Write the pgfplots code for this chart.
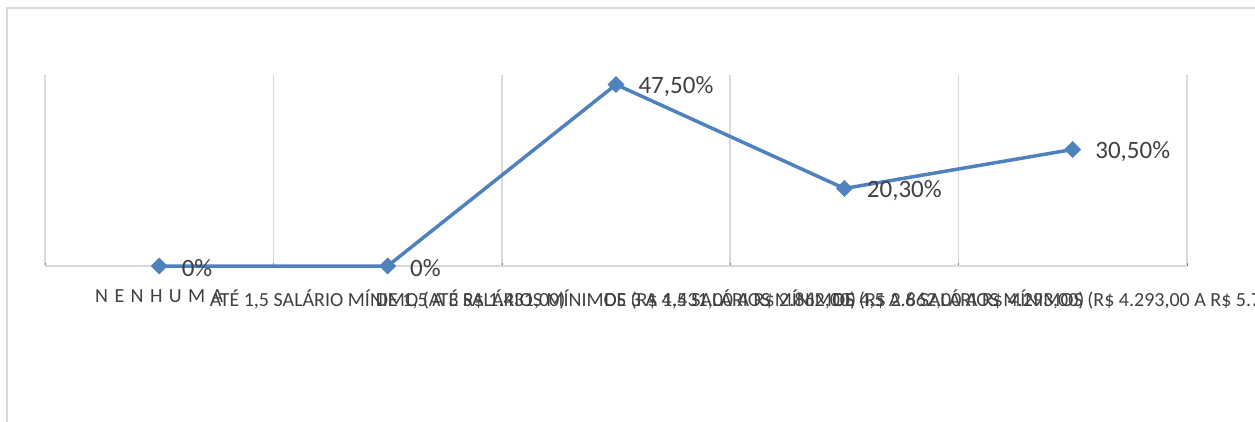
\documentclass[border=0pt]{standalone}
\usepackage{fontspec}
\setmainfont{Carlito}
\usepackage{pgfplots}
\pgfplotsset{compat=1.18}
\definecolor{lineblue}{HTML}{4F81BD}
\definecolor{gridgray}{HTML}{D9D9D9}
\definecolor{txt}{HTML}{404040}
\begin{document}
\begin{tikzpicture}[x=1bp,y=1bp]
\useasboundingbox (0,0) rectangle (1255,421);
\begin{scope}
\clip (0,0) rectangle (1255,421);
\draw[gridgray, line width=2bp] (7,-20) -- (7,413) -- (1300,413);
\end{scope}
\begin{axis}[
  at={(45bp,155bp)}, anchor=south west,
  scale only axis, width=1142bp, height=191bp,
  xmin=-0.5, xmax=4.5, ymin=0, ymax=50,
  axis y line=none, axis x line*=bottom,
  x axis line style={gridgray, line width=1.5bp},
  xtick={0,1,2,3,4}, major tick length=0pt,
  minor xtick={-0.5,0.5,1.5,2.5,3.5,4.5},
  xminorgrids=true,
  minor grid style={gridgray, line width=1.5bp},
  xticklabels={{\addfontfeature{LetterSpace=32}NENHUMA},
    {ATÉ 1,5 SALÁRIO MÍNIMO (ATÉ R\$ 1.431,00)},
    {DE 1,5 A 3 SALÁRIOS MÍNIMOS (R\$ 1.431,00 A R\$ 2.862,00)},
    {DE 3 A 4,5 SALÁRIOS MÍNIMOS (R\$ 2.862,00 A R\$ 4.293,00)},
    {DE 4,5 A 6 SALÁRIOS MÍNIMOS (R\$ 4.293,00 A R\$ 5.724,00)}},
  xticklabel style={font=\fontsize{20bp}{24bp}\selectfont, text=txt, anchor=north, yshift=-20bp},
  clip=false,
]
\addplot[lineblue, line width=3.5bp, mark=square*, mark size=5.7bp,
  mark options={rotate=45, fill=lineblue, draw=lineblue, line width=0.5bp},
  nodes near coords, point meta=explicit symbolic,
  every node near coord/.append style={anchor=west, xshift=19bp, yshift=-2bp,
    font=\fontsize{25bp}{29bp}\selectfont, text=txt}]
coordinates {(0,0) [0\%] (1,0) [0\%] (2,47.5) [47,50\%] (3,20.3) [20,30\%] (4,30.5) [30,50\%]};
\end{axis}
\end{tikzpicture}
\end{document}
